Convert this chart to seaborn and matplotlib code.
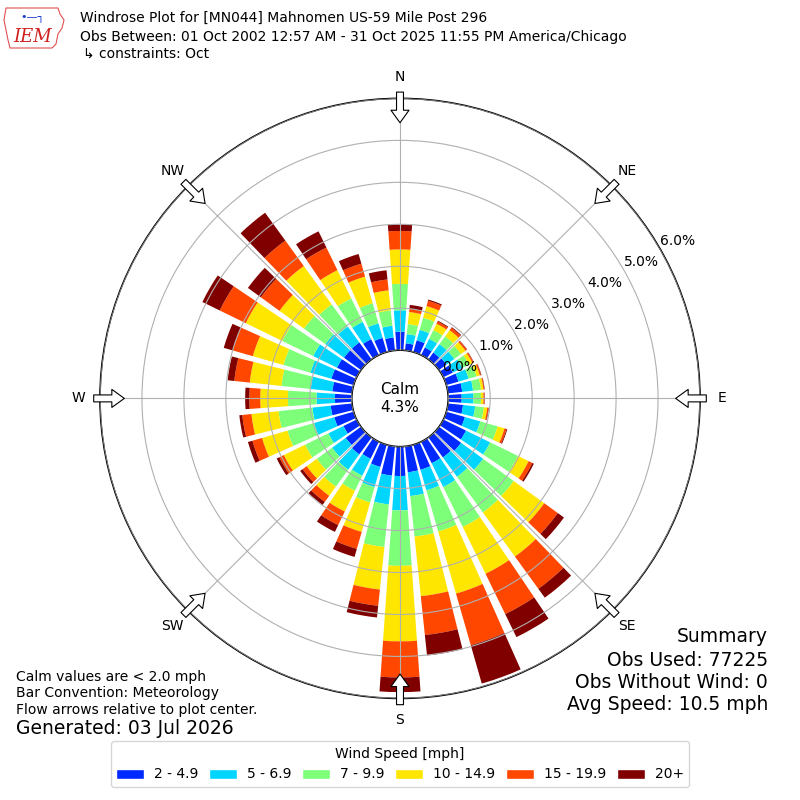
import numpy as np
import matplotlib
matplotlib.use("Agg")
import matplotlib.pyplot as plt
import seaborn as sns
from matplotlib.patches import Patch, Polygon

# wind direction (deg, meteorological) of each bar
directions = np.arange(0, 360, 10)
speed_bins = ["2 - 4.9", "5 - 6.9", "7 - 9.9", "10 - 14.9", "15 - 19.9", "20+"]

# cumulative frequency (%) at the top of each speed band, 0..350 deg
cum_2_5 = [0.44, 0.17, 0.29, 0.20, 0.20, 0.22, 0.25, 0.30, 0.34, 0.32, 0.36, 0.46,
           0.60, 0.65, 0.59, 0.57, 0.62, 0.62, 0.70, 0.70, 0.55, 0.45, 0.50, 0.45,
           0.35, 0.48, 0.51, 0.40, 0.47, 0.55, 0.52, 0.50, 0.50, 0.42, 0.35, 0.31]
cum_5_7 = [0.95, 0.39, 0.55, 0.43, 0.45, 0.45, 0.50, 0.55, 0.60, 0.60, 0.65, 0.84,
           1.24, 1.30, 1.16, 1.20, 1.13, 1.19, 1.52, 1.39, 1.05, 0.90, 0.95, 0.85,
           0.75, 0.98, 0.95, 0.84, 0.99, 1.07, 1.15, 1.05, 0.97, 0.88, 0.71, 0.59]
cum_7_10 = [1.58, 0.63, 0.85, 0.66, 0.68, 0.65, 0.68, 0.75, 0.79, 0.78, 0.86, 1.27,
            1.98, 2.20, 2.21, 2.26, 2.15, 2.16, 2.84, 2.41, 1.43, 1.30, 1.45, 1.30,
            1.37, 1.64, 1.76, 1.52, 1.69, 1.74, 1.97, 1.68, 1.62, 1.50, 1.21, 0.96]
cum_10_15 = [2.40, 0.92, 1.14, 0.83, 0.86, 0.78, 0.77, 0.83, 0.85, 0.84, 0.94, 1.44,
             2.26, 3.10, 3.51, 3.50, 3.69, 3.59, 4.64, 3.43, 2.16, 1.85, 1.72, 1.60,
             1.93, 2.27, 2.41, 2.18, 2.45, 2.50, 2.94, 2.40, 2.75, 2.25, 1.87, 1.44]
cum_15_20 = [2.84, 1.00, 1.27, 0.89, 0.93, 0.82, 0.80, 0.86, 0.87, 0.86, 0.97, 1.49,
             2.36, 3.50, 4.46, 4.57, 4.97, 4.52, 5.50, 3.82, 2.58, 2.21, 1.90, 1.72,
             2.05, 2.51, 2.63, 2.44, 2.82, 3.00, 3.63, 2.95, 3.50, 2.85, 2.19, 1.70]
cum_20up = [3.00, 1.09, 1.30, 0.91, 0.95, 0.83, 0.81, 0.87, 0.88, 0.87, 0.98, 1.51,
            2.40, 3.68, 4.72, 5.18, 5.92, 5.01, 5.85, 4.10, 2.78, 2.39, 1.99, 1.79,
            2.12, 2.62, 2.70, 2.54, 2.98, 3.22, 4.09, 3.33, 4.32, 3.28, 2.43, 1.92]

calm_pct = 4.3
obs_used = 77225
obs_no_wind = 0
avg_speed = 10.5
rings = [0, 1, 2, 3, 4, 5, 6]
compass = ["N", "NE", "E", "SE", "S", "SW", "W", "NW"]

sns.set_style("white")
plt.rcParams["font.family"] = ["DejaVu Sans"]
plt.rcParams.update({"text.color": "black", "axes.labelcolor": "black",
                     "xtick.color": "black", "ytick.color": "black",
                     "axes.edgecolor": "black"})

jet = plt.get_cmap("jet")
colors = sns.color_palette([jet(v) for v in np.linspace(0, 1, 7)[1:]])

fig = plt.figure(figsize=(8, 8), dpi=100)
ax = fig.add_axes([0.125, 0.127, 0.75, 0.75], projection="polar")
ax.set_theta_zero_location("N")
ax.set_theta_direction(-1)
ax.set_rorigin(-1.15)
ax.set_ylim(0, 6.0)
ax.set_axisbelow(False)

theta = np.deg2rad(directions)
bottom = np.zeros(len(directions))
for cum, color, label in zip([cum_2_5, cum_5_7, cum_7_10, cum_10_15, cum_15_20, cum_20up],
                             colors, speed_bins):
    top = np.array(cum)
    ax.bar(theta, top - bottom, width=np.deg2rad(8), bottom=bottom,
           color=color, linewidth=0, label=label, zorder=1)
    bottom = top

ax.set_yticks(rings)
ax.set_yticklabels([f"{r:.1f}%" for r in rings], fontsize=10)
ax.set_rlabel_position(60)
ax.set_xticks(np.deg2rad(np.arange(0, 360, 45)))
ax.set_xticklabels(compass, fontsize=10)
ax.tick_params(axis="x", pad=5)
ax.grid(True, color="#b0b0b0", linewidth=0.8)
for sp in ax.spines.values():
    sp.set_edgecolor("black")
    sp.set_linewidth(1.2)

# calm circle
ax.text(0.5, 0.5, f"Calm\n{calm_pct:.1f}%", transform=ax.transAxes,
        ha="center", va="center", fontsize=11)

# flow arrows pointing to the plot center
for d in np.arange(0, 360, 45):
    t = np.deg2rad(d)
    ax.annotate("", xy=(t, 5.42), xytext=(t, 6.15), xycoords="data",
                arrowprops=dict(arrowstyle="simple,head_length=0.9,head_width=1.3,tail_width=0.5",
                                fc="white", ec="black", lw=0.8, shrinkA=0, shrinkB=0),
                annotation_clip=False, zorder=5)

# header
fig.text(0.1, 1 - 18 / 800, "Windrose Plot for [MN044] Mahnomen US-59 Mile Post 296",
         fontsize=10, va="center")
fig.text(0.1, 1 - 37 / 800,
         "Obs Between: 01 Oct 2002 12:57 AM - 31 Oct 2025 11:55 PM America/Chicago",
         fontsize=10, va="center")
fig.text(0.104, 1 - 54 / 800, "\u21b3 constraints: Oct", fontsize=10, va="center")

# little IEM logo
iowa = np.array([[6, 8], [58, 8], [60, 14], [64, 20], [62, 28], [58, 34],
                 [56, 44], [52, 48], [10, 48], [8, 40], [6, 30], [4, 20]])
fig.patches.append(Polygon(np.column_stack([iowa[:, 0] / 800, 1 - iowa[:, 1] / 800]),
                           closed=True, fill=False, ec="#e05050", lw=0.8,
                           transform=fig.transFigure))
fig.text(33 / 800, 1 - 37 / 800, "IEM", color="#d02020", fontsize=13,
         family="DejaVu Serif", style="italic", ha="center", va="center")
fig.text(33 / 800, 1 - 18 / 800, "\u2022\u2014\u2510", color="#1a3fd0", fontsize=8,
         ha="center", va="center")

# footer, left
fig.text(0.02, 1 - 677 / 800, "Calm values are < 2.0 mph", fontsize=10, va="center")
fig.text(0.02, 1 - 693 / 800, "Bar Convention: Meteorology", fontsize=10, va="center")
fig.text(0.02, 1 - 710 / 800, "Flow arrows relative to plot center.", fontsize=10, va="center")
fig.text(0.02, 1 - 729 / 800, "Generated: 03 Jul 2026", fontsize=13.5, va="center")

# footer, right
fig.text(0.96, 1 - 636 / 800, "Summary", fontsize=13.5, ha="right", va="center")
fig.text(0.96, 1 - 660 / 800, f"Obs Used: {obs_used}", fontsize=13.5, ha="right", va="center")
fig.text(0.96, 1 - 683 / 800, f"Obs Without Wind: {obs_no_wind}", fontsize=13.5,
         ha="right", va="center")
fig.text(0.96, 1 - 705 / 800, f"Avg Speed: {avg_speed} mph", fontsize=13.5,
         ha="right", va="center")

handles = [Patch(facecolor=c, label=l) for c, l in zip(colors, speed_bins)]
fig.legend(handles=handles, loc="upper center", bbox_to_anchor=(0.5, 1 - 741 / 800),
           borderaxespad=0, ncol=6, title="Wind Speed [mph]", fontsize=10,
           title_fontsize=10, handlelength=2.0, handletextpad=0.7, columnspacing=0.8,
           frameon=True)

fig.savefig("out.png", dpi=100)
